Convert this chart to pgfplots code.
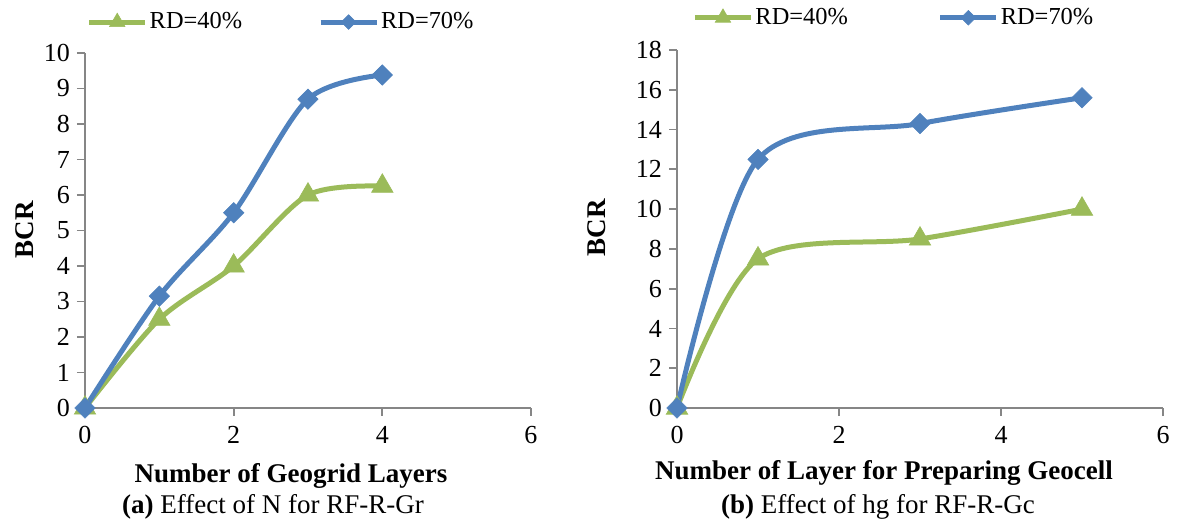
\documentclass[border=0pt]{standalone}
\usepackage{fontspec}
\setmainfont{Liberation Serif}
\usepackage{pgfplots}
\pgfplotsset{compat=1.18}
\definecolor{cg}{HTML}{9BBB59}
\definecolor{cb}{HTML}{4F81BD}
\definecolor{axgray}{HTML}{868686}
\pgfplotsset{
  mystyle/.style={
    scale only axis,
    axis lines=left,
    axis line style={-, draw=axgray, line width=0.9pt},
    tick align=outside,
    major tick length=4pt,
    tick style={draw=axgray, line width=0.9pt},
    /pgf/number format/assume math mode=true,
    ticklabel style={font=\fontsize{13}{13}\selectfont},
    xticklabel style={yshift=-1.5pt},
    clip=false,
    legend columns=2,
    legend style={draw=none, fill=none, font=\fontsize{12.2}{12.2}\selectfont, inner sep=0pt, nodes={inner xsep=1pt}},
    legend image code/.code={\draw[mark repeat=2,mark phase=2,##1,every mark/.append style={scale=0.72}] plot coordinates {(0pt,0pt)(14pt,0pt)(28pt,0pt)};},
  },
  g40/.style={color=cg, line width=2.5pt, smooth, tension=0.5, mark=triangle*, mark size=6.2pt, mark options={solid, line width=0.3pt, fill=cg, draw=cg}},
  b70/.style={color=cb, line width=2.5pt, smooth, tension=0.5, mark=square*, mark size=3.6pt, mark options={solid, rotate=45, line width=0.3pt, fill=cb, draw=cb}},
}
\begin{document}
\begin{tikzpicture}
\useasboundingbox (0,0) rectangle (589.5pt,-264.5pt);
% Left chart
\begin{axis}[mystyle,
  at={(42.5pt,-204pt)}, anchor=south west,
  width=223pt, height=177.5pt,
  xmin=0, xmax=6, ymin=0, ymax=10,
  xtick={0,2,4,6}, ytick={0,1,...,10},
  legend style={at={(0.003,1.087)}, anchor=west, /tikz/every even column/.append style={column sep=37pt}},
]
\addplot[g40] coordinates {(0,0) (1,2.5) (2,4) (3,6) (4,6.25)};
\addlegendentry{RD=40\%}
\addplot[b70] coordinates {(0,0) (1,3.15) (2,5.5) (3,8.7) (4,9.38)};
\addlegendentry{RD=70\%}
\end{axis}
% Right chart
\begin{axis}[mystyle,
  at={(338.5pt,-204pt)}, anchor=south west,
  width=243pt, height=179pt,
  xmin=0, xmax=6, ymin=0, ymax=18,
  xtick={0,2,4,6}, ytick={0,2,...,18},
  legend style={at={(0.031,1.09)}, anchor=west, /tikz/every even column/.append style={column sep=44pt}},
]
\addplot[g40] coordinates {(0,0) (1,7.5) (3,8.5) (5,10)};
\addlegendentry{RD=40\%}
\addplot[b70] coordinates {(0,0) (1,12.5) (3,14.3) (5,15.6)};
\addlegendentry{RD=70\%}
\end{axis}
% Axis titles and captions
\node[rotate=90, font=\fontsize{13.5}{13.5}\selectfont\bfseries] at (12.5pt,-115pt) {BCR};
\node[rotate=90, font=\fontsize{13.5}{13.5}\selectfont\bfseries] at (298.5pt,-114pt) {BCR};
\node[font=\fontsize{13.5}{13.5}\selectfont\bfseries] at (145.5pt,-238pt) {Number of Geogrid Layers};
\node[font=\fontsize{13.5}{13.5}\selectfont] at (136.5pt,-253.5pt) {\textbf{(a)} Effect of N for RF-R-Gr};
\node[font=\fontsize{13.5}{13.5}\selectfont\bfseries] at (442pt,-236.5pt) {Number of Layer for Preparing Geocell};
\node[font=\fontsize{13.5}{13.5}\selectfont] at (439pt,-253.5pt) {\textbf{(b)} Effect of hg for RF-R-Gc};
\end{tikzpicture}
\end{document}
